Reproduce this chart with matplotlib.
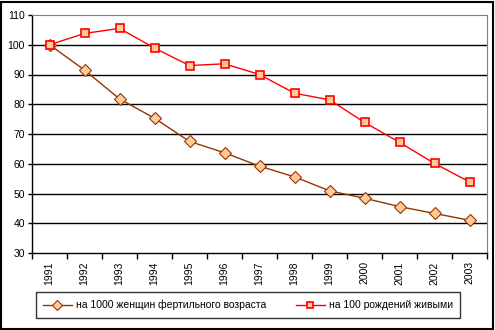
import matplotlib
matplotlib.use("Agg")
import matplotlib.pyplot as plt
from matplotlib.patches import Rectangle

plt.rcParams['font.family'] = ['Liberation Sans', 'DejaVu Sans']

years = ["1991", "1992", "1993", "1994", "1995", "1996", "1997",
         "1998", "1999", "2000", "2001", "2002", "2003"]
women = [100, 91.5, 81.8, 75.3, 67.5, 63.7, 59.2, 55.6, 50.9, 48.4, 45.6, 43.3, 41.0]
births = [100, 103.8, 105.5, 98.9, 93.0, 93.6, 90.0, 83.7, 81.5, 73.9, 67.2, 60.1, 53.9]

lab_women = "на 1000 женщин фертильного возраста"
lab_births = "на 100 рождений живыми"

fig = plt.figure(figsize=(4.95, 3.3), dpi=100)
ax = fig.add_axes([32 / 495, 1 - 253 / 330, 455 / 495, 238 / 330])

x = list(range(len(years)))
ax.plot(x, women, color="#993300", lw=1, marker="D", ms=6,
        mfc="#FFCC99", mec="#993300", mew=0.8, label=lab_women, zorder=3)
ax.plot(x, births, color="#FF0000", lw=1, marker="s", ms=5.8,
        mfc="#FFCC99", mec="#FF0000", mew=1.2, label=lab_births, zorder=3)

ax.set_xlim(-0.5, len(years) - 0.5)
ax.set_ylim(30, 110)
ax.set_yticks(range(30, 111, 10))
ax.tick_params(axis="y", labelsize=7.5, length=3, width=1, pad=2, direction="out")
ax.set_xticks(x)
ax.set_xticklabels(years, rotation=90, fontsize=7.5)
ax.tick_params(axis="x", length=0, pad=6)
ax.set_xticks([i - 0.5 for i in range(len(years) + 1)], minor=True)
ax.tick_params(axis="x", which="minor", length=4, width=1)
for v in range(40, 110, 10):
    ax.axhline(v, color="black", lw=1, zorder=1)

ax.spines["top"].set_color("#808080")
ax.spines["right"].set_color("#808080")
ax.spines["left"].set_linewidth(1)
ax.spines["bottom"].set_linewidth(1)

leg = fig.legend(loc="center", bbox_to_anchor=(248 / 495, 1 - 305 / 330), ncol=2,
                 fontsize=7.5, frameon=True, fancybox=False, edgecolor="black",
                 handlelength=2.8, handletextpad=0.4, columnspacing=2.8, borderpad=0.7,
                 markerscale=0.8)
leg.get_frame().set_linewidth(1)

fig.patches.append(Rectangle((1 / 495, 1 / 330), 492 / 495, 327 / 330, transform=fig.transFigure,
                             fill=False, edgecolor="black", lw=1.5))

fig.savefig("out.png", dpi=100)
